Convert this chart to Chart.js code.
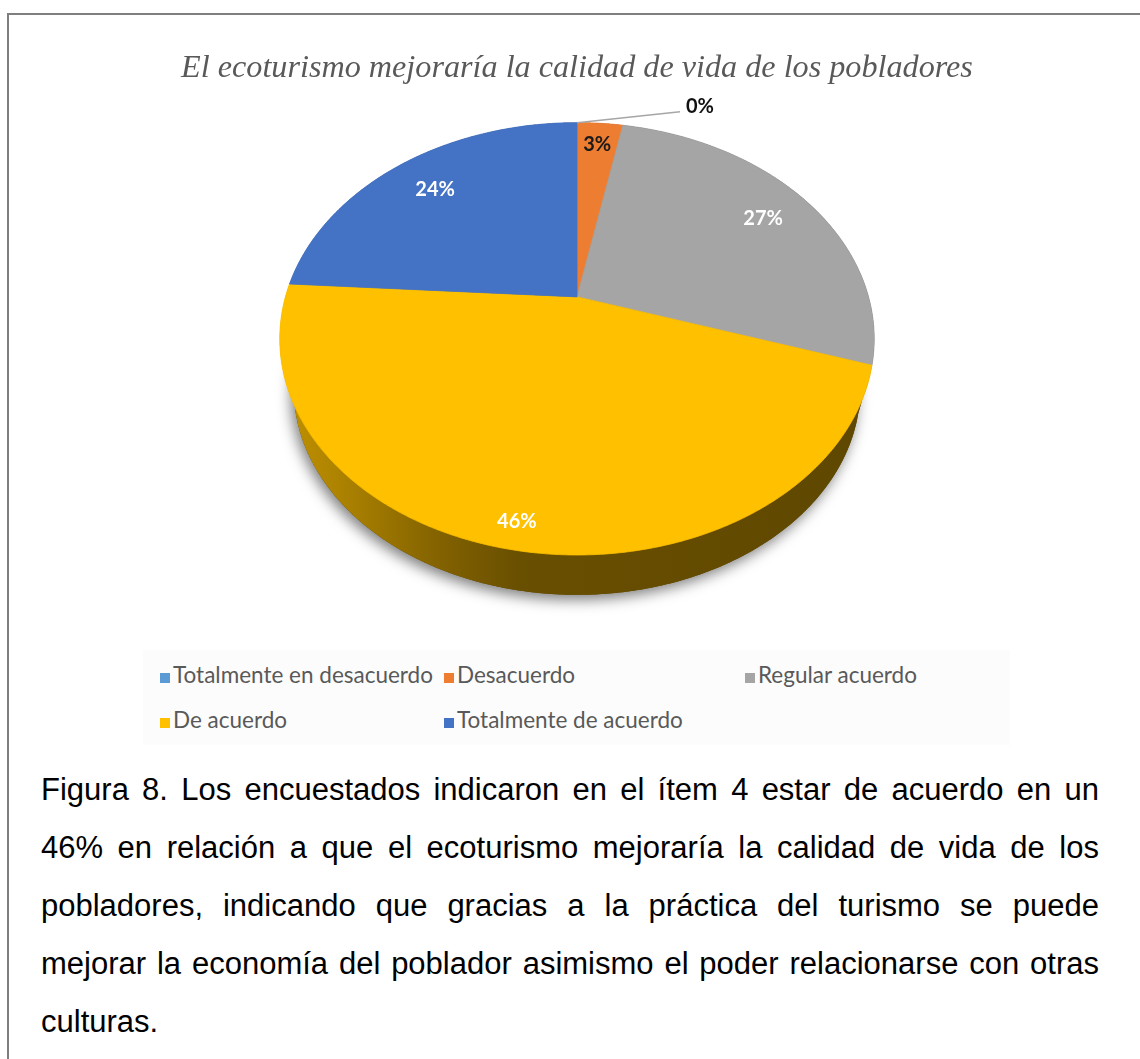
<!DOCTYPE html>
<html>
<head>
<meta charset="utf-8">
<script src="https://cdn.jsdelivr.net/npm/chart.js@4.4.1/dist/chart.umd.min.js"></script>
<style>
html,body{margin:0;padding:0;background:#fff;}
body{width:1140px;height:1059px;position:relative;overflow:hidden;}
#frame{position:absolute;left:7px;top:13px;width:1200px;height:1100px;border-top:2px solid #7f7f7f;border-left:2px solid #7f7f7f;box-sizing:border-box;}
#chartBox{position:absolute;left:0;top:0;width:1140px;height:640px;}
#legend{position:absolute;left:143px;top:650px;width:867px;height:95px;background:#fcfcfc;}
.li{position:absolute;font-family:Lato,'Open Sans',sans-serif;font-size:22.5px;color:#595959;white-space:nowrap;line-height:24px;height:24px;}
.li i{display:inline-block;width:10px;height:10px;margin-right:3px;vertical-align:0px;}
#caption{position:absolute;left:41px;width:1058px;top:761px;font-family:'Liberation Sans',Arial,sans-serif;font-size:31px;line-height:58px;color:#000;}
#caption div{text-align:justify;text-align-last:justify;white-space:nowrap;}
#caption div.last{text-align-last:left;}
</style>
</head>
<body>
<div id="frame"></div>
<div id="chartBox"><canvas id="c" width="1140" height="640"></canvas></div>
<div id="legend"></div>
<div id="caption">
<div>Figura 8. Los encuestados indicaron en el ítem 4 estar de acuerdo en un</div>
<div>46% en relación a que el ecoturismo mejoraría la calidad de vida de los</div>
<div>pobladores, indicando que gracias a la práctica del turismo se puede</div>
<div>mejorar la economía del poblador asimismo el poder relacionarse con otras</div>
<div class="last">culturas.</div>
</div>
<script>
// ---- data ----
const titleText = 'El ecoturismo mejoraría la calidad de vida de los pobladores';
const categories = ['Totalmente en desacuerdo', 'Desacuerdo', 'Regular acuerdo', 'De acuerdo', 'Totalmente de acuerdo'];
const percentages = [0, 3, 27, 46, 24];

// ---- styles ----
const sliceColors = ['#5B9BD5', '#ED7D31', '#A5A5A5', '#FFC000', '#4472C4'];
const labelColors = ['#111111', '#1a1a1a', '#ffffff', '#ffffff', '#ffffff'];
const labelRadius = [1.0, 0.86, 0.8, 0.91, 0.79];
const legendCols = [160, 444, 745];
const legendRows = [663, 708];

const VIEW = { rxK: 297 / 239, ryK: 216 / 239, apex: -0.194, depthK: 50 / 239, bottomScale: 0.953 };

function hexToRgb(h) {
  const n = parseInt(h.slice(1), 16);
  return [(n >> 16) & 255, (n >> 8) & 255, n & 255];
}
function shade(h, f) {
  const c = hexToRgb(h).map(v => Math.round(v * f));
  return 'rgb(' + c.join(',') + ')';
}
function proj(g, theta, r, bottom) {
  const x = r * Math.sin(theta), y = -r * Math.cos(theta);
  const d = 1 + g.a * y;
  const X = x * Math.sqrt(1 - g.a * g.a) / d, Y = (y + g.a) / d;
  let px = g.cx + g.rx * X, py = g.cy + g.ry * Y;
  if (bottom) { px = g.cx + g.s * (px - g.cx); py = g.cy + g.depth + g.s * (py - g.cy); }
  return [px, py];
}
function arcPts(g, t1, t2, bottom) {
  const pts = [];
  const n = Math.max(2, Math.ceil(Math.abs(t2 - t1) / (Math.PI / 360)));
  for (let k = 0; k <= n; k++) pts.push(proj(g, t1 + (t2 - t1) * k / n, 1, bottom));
  return pts;
}

const pie3d = {
  id: 'pie3d',
  beforeDatasetsDraw(chart) {
    const meta = chart.getDatasetMeta(0);
    const els = meta.data;
    if (!els.length) return false;
    const e0 = els[0];
    const R = e0.outerRadius;
    const g = { cx: e0.x, cy: e0.y, rx: R * VIEW.rxK, ry: R * VIEW.ryK, a: VIEW.apex, depth: R * VIEW.depthK, s: VIEW.bottomScale };
    const ctx = chart.ctx;
    const data = chart.data.datasets[0].data;
    const total = data.reduce((s, v) => s + v, 0);
    const th = el => [el.startAngle + Math.PI / 2, el.endAngle + Math.PI / 2];

    ctx.save();
    // shadow under the pie
    ctx.beginPath();
    arcPts(g, 0, Math.PI * 2, true).forEach((p, k) => k ? ctx.lineTo(p[0], p[1]) : ctx.moveTo(p[0], p[1]));
    ctx.closePath();
    ctx.shadowColor = 'rgba(0,0,0,0.5)';
    ctx.shadowBlur = 14;
    ctx.shadowOffsetX = -3;
    ctx.shadowOffsetY = 5;
    ctx.fillStyle = '#5e4800';
    ctx.fill();
    ctx.restore();

    // side walls
    els.forEach((el, i) => {
      if (data[i] <= 0) return;
      const [t1, t2] = th(el);
      const top = arcPts(g, t1, t2, false);
      const bot = arcPts(g, t1, t2, true).reverse();
      const col = chart.data.datasets[0].backgroundColor[i];
      const grad = ctx.createLinearGradient(g.cx - g.rx, 0, g.cx + g.rx, 0);
      grad.addColorStop(0, shade(col, 0.76));
      grad.addColorStop(0.12, shade(col, 0.66));
      grad.addColorStop(0.28, shade(col, 0.5));
      grad.addColorStop(0.4, shade(col, 0.41));
      grad.addColorStop(1, shade(col, 0.37));
      ctx.beginPath();
      top.concat(bot).forEach((p, k) => k ? ctx.lineTo(p[0], p[1]) : ctx.moveTo(p[0], p[1]));
      ctx.closePath();
      ctx.fillStyle = grad;
      ctx.fill();
    });

    // top faces
    const apex = proj(g, 0, 0, false);
    els.forEach((el, i) => {
      if (data[i] <= 0) return;
      const [t1, t2] = th(el);
      const col = chart.data.datasets[0].backgroundColor[i];
      ctx.beginPath();
      ctx.moveTo(apex[0], apex[1]);
      arcPts(g, t1, t2, false).forEach(p => ctx.lineTo(p[0], p[1]));
      ctx.closePath();
      ctx.fillStyle = col;
      ctx.fill();
      ctx.strokeStyle = col;
      ctx.lineWidth = 0.8;
      ctx.stroke();
    });

    // data labels
    ctx.save();
    ctx.font = 'bold 20px Lato, "Open Sans", sans-serif';
    ctx.textBaseline = 'middle';
    els.forEach((el, i) => {
      const [t1, t2] = th(el);
      const txt = Math.round(data[i] / total * 100) + '%';
      ctx.fillStyle = labelColors[i];
      if (data[i] <= 0) {
        const p = proj(g, t1, 1, false);
        ctx.beginPath();
        ctx.moveTo(p[0], p[1]);
        ctx.lineTo(p[0] + 103, p[1] - 11);
        ctx.strokeStyle = '#a6a6a6';
        ctx.lineWidth = 1.5;
        ctx.stroke();
        ctx.textAlign = 'left';
        ctx.fillText(txt, p[0] + 109, p[1] - 16);
      } else {
        const p = proj(g, (t1 + t2) / 2, labelRadius[i], false);
        ctx.textAlign = 'center';
        ctx.fillText(txt, p[0], p[1]);
      }
    });
    ctx.restore();
    return false;
  }
};

const chart = new Chart(document.getElementById('c'), {
  type: 'pie',
  data: {
    labels: categories,
    datasets: [{ data: percentages, backgroundColor: sliceColors, borderWidth: 0 }]
  },
  options: {
    responsive: false,
    animation: false,
    events: [],
    layout: { padding: { left: 14, right: 0, top: 0, bottom: 62 } },
    plugins: {
      legend: { display: false },
      tooltip: { enabled: false },
      title: {
        display: true,
        text: titleText,
        color: '#595959',
        font: { family: '"Liberation Serif", "DejaVu Serif", serif', size: 32.2, style: 'italic', weight: 'normal', lineHeight: 1.2 },
        padding: { top: 49, bottom: 12 }
      }
    }
  },
  plugins: [pie3d]
});

// HTML legend built from the chart's own legend items
const legendBox = document.getElementById('legend');
const items = chart.options.plugins.legend.labels.generateLabels(chart);
items.forEach((it, i) => {
  const d = document.createElement('div');
  d.className = 'li';
  d.style.left = (legendCols[i % 3] - 143) + 'px';
  d.style.top = (legendRows[Math.floor(i / 3)] - 650) + 'px';
  const sw = document.createElement('i');
  sw.style.background = it.fillStyle;
  d.appendChild(sw);
  d.appendChild(document.createTextNode(it.text));
  legendBox.appendChild(d);
});
</script>
</body>
</html>
